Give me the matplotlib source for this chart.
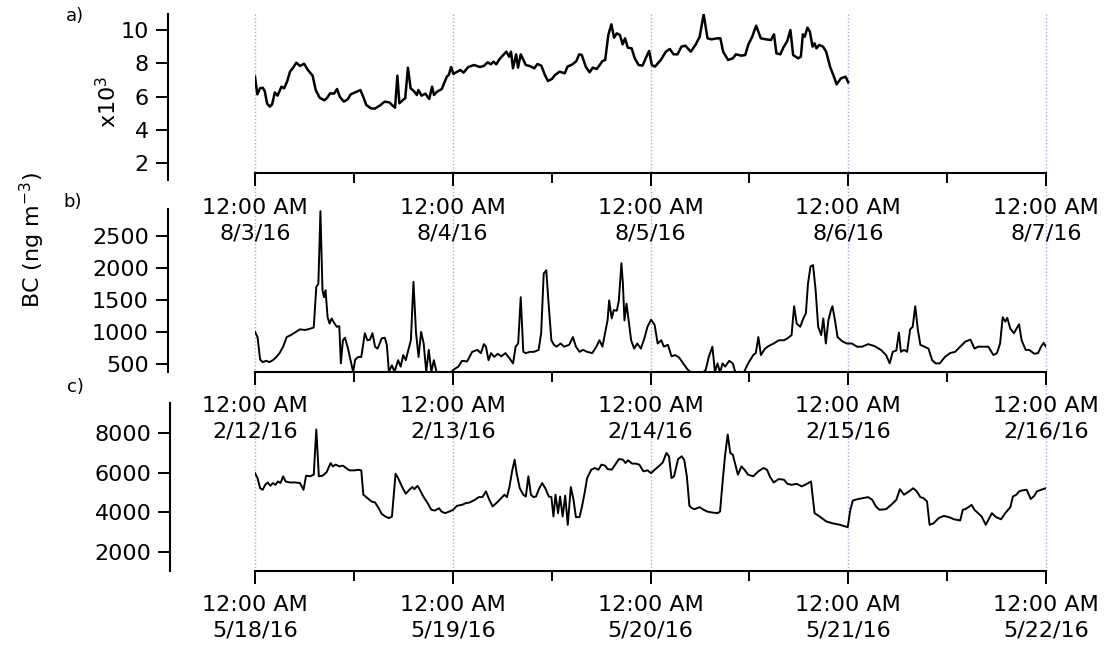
import numpy as np
import matplotlib
matplotlib.use('Agg')
import matplotlib.pyplot as plt
import matplotlib.dates as mdates
from matplotlib.ticker import FuncFormatter

plt.rcParams['font.family'] = 'DejaVu Sans'
plt.rcParams['font.size'] = 16

# a) August 2016, hours since 8/3/16 00:00, BC in ng m-3
start_a = np.datetime64('2016-08-03T00:00')
hrs_a = [0.00, 0.28, 0.61, 0.94, 1.18, 1.46, 1.79, 2.08, 2.41, 2.74,
         3.21, 3.54, 3.92, 4.25, 4.63, 5.01, 5.48, 5.95, 6.42, 6.99,
         7.37, 7.84, 8.41, 8.78, 9.11, 9.59, 9.96, 10.29, 10.77, 11.24,
         11.62, 12.18, 12.80, 13.13, 13.51, 14.07, 14.54, 15.25, 15.72, 16.29,
         16.72, 17.00, 17.28, 17.52, 17.99, 18.23, 18.56, 18.89, 19.27, 19.64,
         19.83, 20.21, 20.68, 21.15, 21.49, 21.72, 22.10, 22.67, 23.28, 23.52,
         23.80, 24.08, 24.55, 24.93, 25.31, 25.88, 26.59, 27.29, 27.76, 28.24,
         28.62, 28.95, 29.28, 29.65, 30.13, 30.50, 30.84, 31.07, 31.31, 31.69,
         31.92, 32.25, 32.86, 33.34, 33.90, 34.28, 34.75, 35.18, 35.56, 36.03,
         36.41, 36.97, 37.59, 37.92, 38.53, 39.01, 39.34, 39.66, 40.14, 40.61,
         40.99, 41.46, 41.84, 42.17, 42.50, 42.88, 43.25, 43.58, 43.91, 44.29,
         44.62, 44.91, 45.24, 45.71, 46.09, 46.56, 47.03, 47.50, 47.83, 48.16,
         48.54, 49.25, 49.86, 50.34, 50.81, 51.28, 51.75, 52.23, 52.89, 53.50,
         53.97, 54.45, 54.92, 55.39, 56.10, 56.48, 56.81, 57.42, 57.99, 58.37,
         59.03, 59.50, 59.88, 60.35, 60.82, 61.39, 62.00, 62.62, 62.99, 63.28,
         63.75, 64.12, 64.60, 64.98, 65.31, 65.92, 66.25, 66.49, 66.72, 67.05,
         67.34, 67.67, 67.90, 68.14, 68.47, 68.94, 69.32, 69.79, 70.26, 70.59,
         71.11, 71.68, 72.00]
bc_a = [7200, 6140, 6500, 6540, 6340, 5600, 5400, 5540, 6260, 6060,
        6600, 6500, 6940, 7500, 7740, 8040, 7840, 7980, 7600, 7260,
        6400, 5940, 5780, 5940, 6200, 6180, 6460, 6000, 5700, 5840,
        6140, 6260, 6400, 6000, 5500, 5300, 5280, 5500, 5700, 5660,
        5460, 5340, 7260, 5600, 5820, 5900, 7740, 6500, 6340, 6100,
        6400, 6060, 6180, 5860, 6600, 6100, 6300, 6460, 7200, 7300,
        7780, 7360, 7500, 7600, 7440, 7780, 7900, 7780, 7840, 8060,
        7940, 8100, 7940, 8240, 8500, 8700, 8400, 8700, 7700, 8540,
        7740, 8540, 7900, 7840, 7700, 7960, 7860, 7300, 6940, 7060,
        7300, 7500, 7400, 7800, 7940, 8140, 8540, 8500, 7800, 7460,
        7740, 7660, 7900, 8140, 8200, 9700, 10340, 9540, 9800, 9700,
        9140, 9500, 8940, 8900, 8300, 7900, 7860, 8400, 8740, 7900,
        7800, 8200, 8700, 8860, 8540, 8540, 9000, 9060, 8700, 9140,
        9600, 10950, 9500, 9440, 9500, 9500, 8700, 8200, 8300, 8540,
        8460, 8500, 9140, 9600, 10260, 9500, 9440, 9400, 9740, 8600,
        8540, 8940, 9340, 10000, 8500, 8300, 8400, 9740, 9600, 10140,
        9900, 9000, 9200, 8900, 9100, 9000, 8700, 7800, 7200, 6740,
        7100, 7200, 6860]

# b) February 2016
start_b = np.datetime64('2016-02-12T00:00')
hrs_b = [0.00, 0.31, 0.62, 0.93, 1.36, 1.74, 2.17, 2.60, 2.98, 3.41,
         3.85, 4.34, 4.84, 5.46, 6.08, 6.70, 7.13, 7.44, 7.69, 7.94,
         8.19, 8.37, 8.56, 8.81, 9.05, 9.30, 9.61, 9.92, 10.23, 10.42,
         10.67, 10.92, 11.29, 11.54, 11.91, 12.16, 12.53, 12.90, 13.33, 13.64,
         13.95, 14.26, 14.57, 14.88, 15.38, 15.75, 16.00, 16.25, 16.62, 16.93,
         17.37, 17.68, 17.99, 18.30, 18.61, 18.92, 19.23, 19.54, 19.85, 20.16,
         20.47, 20.78, 21.09, 21.40, 21.71, 22.02, 22.45, 22.95, 23.57, 24.19,
         24.68, 25.12, 25.74, 26.36, 26.98, 27.41, 27.78, 28.03, 28.34, 28.65,
         29.03, 29.46, 29.89, 30.39, 30.89, 31.32, 31.63, 31.94, 32.25, 32.56,
         32.87, 33.37, 33.86, 34.42, 34.73, 35.04, 35.35, 35.66, 35.97, 36.28,
         36.59, 37.09, 37.52, 38.14, 38.58, 38.95, 39.38, 39.82, 40.31, 40.93,
         41.43, 41.80, 42.17, 42.48, 42.79, 42.98, 43.29, 43.54, 43.91, 44.16,
         44.47, 44.65, 44.84, 45.09, 45.40, 45.65, 46.02, 46.39, 46.83, 47.26,
         47.63, 48.07, 48.50, 48.87, 49.31, 49.62, 50.11, 50.55, 50.98, 51.48,
         51.97, 52.47, 52.97, 53.59, 54.21, 54.70, 55.07, 55.51, 55.82, 56.13,
         56.44, 56.75, 57.06, 57.55, 57.99, 58.30, 58.79, 59.29, 59.85, 60.47,
         60.78, 61.09, 61.40, 61.90, 62.33, 62.95, 63.57, 64.19, 64.62, 65.12,
         65.43, 65.74, 66.17, 66.55, 66.86, 67.11, 67.42, 67.73, 68.04, 68.35,
         68.72, 68.97, 69.28, 69.59, 69.90, 70.08, 70.39, 70.70, 71.32, 71.82,
         72.44, 73.06, 73.68, 74.42, 75.17, 75.97, 76.59, 77.03, 77.40, 77.83,
         78.15, 78.39, 78.77, 79.14, 79.51, 79.82, 80.13, 80.44, 80.75, 81.25,
         81.74, 82.18, 82.61, 83.11, 83.73, 84.35, 84.97, 85.59, 86.21, 86.83,
         87.32, 87.76, 88.38, 89.00, 89.62, 90.05, 90.43, 90.74, 91.05, 91.30,
         91.67, 92.11, 92.73, 93.04, 93.53, 93.97, 94.59, 95.03, 95.40, 95.71,
         96.00]
bc_b = [1000, 920, 570, 530, 550, 530, 560, 610, 670, 770,
        920, 950, 990, 1040, 1030, 1050, 1070, 1700, 1750, 2880,
        1650, 1540, 1650, 1230, 1130, 1210, 1140, 1080, 1090, 510,
        870, 910, 740, 590, 380, 570, 610, 610, 980, 870,
        880, 980, 770, 740, 900, 910, 800, 380, 480, 380,
        560, 460, 640, 560, 720, 870, 1780, 990, 610, 1000,
        820, 380, 720, 380, 560, 380, 360, 360, 350, 420,
        460, 550, 540, 690, 720, 670, 810, 770, 560, 670,
        610, 660, 620, 670, 590, 510, 770, 820, 1540, 690,
        670, 690, 690, 720, 980, 1910, 1960, 1390, 870, 800,
        770, 820, 770, 800, 920, 770, 690, 720, 690, 670,
        770, 870, 770, 980, 1180, 1490, 1210, 1340, 1330, 1490,
        2070, 1750, 1180, 1440, 1130, 870, 740, 820, 740, 900,
        1080, 1190, 1110, 820, 870, 770, 800, 620, 640, 600,
        510, 420, 360, 350, 350, 410, 610, 770, 380, 510,
        370, 510, 460, 550, 510, 370, 380, 360, 510, 640,
        670, 920, 640, 740, 780, 820, 870, 870, 900, 950,
        1400, 1130, 1080, 1210, 1290, 1750, 2020, 2040, 1650, 1080,
        950, 1210, 820, 1180, 1340, 1400, 1180, 920, 850, 820,
        820, 770, 770, 810, 780, 720, 640, 510, 690, 710,
        990, 690, 720, 690, 1040, 1080, 1400, 1040, 800, 770,
        740, 560, 510, 510, 610, 670, 690, 770, 850, 880,
        740, 770, 770, 770, 640, 670, 820, 1230, 1160, 1220,
        1050, 980, 1120, 870, 720, 720, 660, 670, 770, 830,
        770]

# c) May 2016
start_c = np.datetime64('2016-05-18T00:00')
hrs_c = [0.00, 0.31, 0.62, 0.93, 1.24, 1.55, 1.86, 2.17, 2.48, 2.79,
         3.10, 3.41, 3.72, 4.22, 4.84, 5.46, 5.89, 6.20, 6.70, 7.13,
         7.44, 7.75, 8.19, 8.68, 9.18, 9.43, 9.80, 10.23, 10.67, 11.04,
         11.47, 12.09, 12.53, 12.90, 13.15, 13.64, 14.14, 14.57, 15.01, 15.38,
         15.82, 16.25, 16.62, 17.06, 17.37, 17.86, 18.30, 18.73, 19.10, 19.35,
         19.72, 19.97, 20.47, 20.96, 21.40, 21.83, 22.33, 22.64, 23.07, 23.57,
         24.06, 24.50, 25.12, 25.55, 26.05, 26.67, 27.16, 27.60, 28.03, 28.40,
         28.84, 29.27, 29.77, 30.27, 30.58, 30.89, 31.20, 31.51, 31.75, 32.13,
         32.56, 32.87, 33.18, 33.49, 33.80, 34.11, 34.42, 34.85, 35.23, 35.66,
         35.97, 36.22, 36.47, 36.78, 37.03, 37.34, 37.65, 37.96, 38.33, 38.64,
         38.95, 39.38, 39.69, 40.00, 40.31, 40.81, 41.24, 41.68, 42.05, 42.48,
         42.79, 43.29, 43.72, 44.16, 44.65, 44.96, 45.27, 45.77, 46.20, 46.64,
         47.14, 47.63, 48.07, 48.50, 48.99, 49.49, 49.93, 50.24, 50.55, 50.86,
         51.35, 51.79, 52.10, 52.41, 52.72, 53.03, 53.34, 53.96, 54.45, 54.89,
         55.51, 56.13, 56.44, 56.81, 57.06, 57.37, 57.68, 57.99, 58.30, 58.61,
         59.04, 59.41, 59.85, 60.47, 61.09, 61.71, 62.14, 62.52, 62.95, 63.57,
         64.19, 64.62, 65.12, 65.74, 66.36, 66.98, 67.48, 67.91, 68.53, 69.34,
         70.08, 71.01, 71.94, 72.25, 72.56, 73.18, 73.80, 74.42, 74.92, 75.35,
         75.79, 76.59, 77.21, 77.83, 78.27, 78.77, 79.39, 79.88, 80.31, 80.75,
         81.12, 81.56, 81.87, 82.36, 82.98, 83.60, 84.22, 84.84, 85.59, 85.90,
         86.21, 86.71, 86.96, 87.32, 87.76, 88.19, 88.69, 89.00, 89.43, 89.93,
         90.55, 91.05, 91.67, 91.98, 92.41, 92.73, 93.16, 93.66, 94.15, 94.59,
         94.90, 95.40, 96.00]
bc_c = [5980, 5730, 5220, 5140, 5390, 5510, 5340, 5480, 5390, 5560,
        5480, 5820, 5560, 5510, 5510, 5480, 5140, 5850, 5820, 5900,
        8180, 5820, 5850, 6020, 6490, 6320, 6410, 6320, 6360, 6240,
        6120, 6120, 6150, 6120, 4890, 4720, 4550, 4500, 4210, 3920,
        3790, 3710, 3790, 5950, 5730, 5280, 4940, 5140, 5280, 5170,
        5340, 5170, 4770, 4460, 4130, 4090, 4210, 4040, 3960, 4040,
        4130, 4330, 4380, 4460, 4500, 4630, 4770, 4770, 5060, 4670,
        4300, 4460, 4670, 4890, 4770, 5310, 6070, 6660, 5980, 5220,
        4890, 4800, 5820, 4890, 4770, 4800, 5140, 5480, 5220, 4800,
        4770, 3790, 4890, 3960, 4800, 3790, 4840, 3370, 5280, 4670,
        3760, 3760, 4300, 4970, 5730, 6150, 6240, 6150, 6410, 6360,
        6190, 6150, 6410, 6690, 6660, 6490, 6630, 6460, 6460, 6410,
        6070, 6120, 5980, 6150, 6320, 6520, 7000, 6830, 5730, 5820,
        6690, 6830, 6630, 5820, 4330, 4210, 4160, 4260, 4130, 4040,
        3990, 3960, 4040, 5820, 6910, 7930, 7000, 6910, 6410, 5900,
        6320, 6150, 5900, 5820, 6070, 6240, 6150, 5780, 5510, 5680,
        5650, 5440, 5390, 5440, 5310, 5440, 5560, 3960, 3790, 3540,
        3450, 3370, 3250, 4130, 4600, 4670, 4720, 4770, 4630, 4300,
        4130, 4160, 4380, 4630, 5170, 4890, 5060, 5220, 5060, 4770,
        4720, 4550, 3370, 3450, 3710, 3820, 3760, 3650, 3590, 4130,
        4160, 4300, 4380, 4130, 3960, 3790, 3370, 3620, 3960, 3760,
        3650, 3960, 4260, 4800, 4890, 5060, 5110, 5140, 4670, 4840,
        5060, 5140, 5220]

W, H = 1108, 651
fig = plt.figure(figsize=(W / 100, H / 100), dpi=100)


def box(top, bottom, left=255, right=1046):
    # pixel box -> figure fraction
    return [left / W, 1 - bottom / H, (right - left) / W, (bottom - top) / H]


def to_time(start, hrs):
    return start + (np.array(hrs) * 3600).astype('timedelta64[s]')


def fmt_date(x, pos):
    d = mdates.num2date(x)
    return d.strftime('%I:%M %p') + '\n{}/{}/{}'.format(d.month, d.day, d.strftime('%y'))


# dotted day lines running through all three panels
gax = fig.add_axes(box(14, 571))
gax.set_xlim(0, 4)
gax.set_xticks(range(5))
gax.set_yticks([])
gax.grid(True, axis='x', color='#a8a8f2', linestyle=(0, (1, 1.5)), linewidth=1.0)
for gl in gax.get_xgridlines():
    gl.set_clip_on(False)
gax.tick_params(length=0, labelbottom=False)
for s in gax.spines.values():
    s.set_visible(False)
gax.patch.set_visible(False)

panels = [
    (start_a, hrs_a, np.array(bc_a) / 1000, box(14, 180), (1.0, 10.96), [2, 4, 6, 8, 10], 0.04, 63, 1.8),
    (start_b, hrs_b, np.array(bc_b), box(209, 372), (376, 2914), [500, 1000, 1500, 2000, 2500], 0.0, 63, 1.4),
    (start_c, hrs_c, np.array(bc_c), box(403, 571), (1040, 9520), [2000, 4000, 6000, 8000], 0.0, 61, 1.4),
]

axes = []
for start, hrs, vals, rect, ylim, yt, xpos, off, lw in panels:
    ax = fig.add_axes(rect)
    ax.patch.set_visible(False)
    ax.plot(to_time(start, hrs), vals, color='black', linewidth=lw)
    ax.set_xlim(start, start + np.timedelta64(4, 'D'))
    ax.set_ylim(*ylim)
    ax.set_yticks(yt)
    ax.spines['top'].set_visible(False)
    ax.spines['right'].set_visible(False)
    ax.spines['left'].set_position(('outward', off))
    ax.spines['bottom'].set_position(('axes', xpos))
    for s in ('left', 'bottom'):
        ax.spines[s].set_linewidth(1.5)
    ax.xaxis.set_major_locator(mdates.DayLocator())
    ax.xaxis.set_minor_locator(mdates.HourLocator(byhour=[12]))
    ax.xaxis.set_major_formatter(FuncFormatter(fmt_date))
    ax.tick_params(axis='x', which='major', direction='out', length=9.5, width=1.4, pad=8, labelsize=16)
    ax.tick_params(axis='x', which='minor', direction='out', length=7, width=1.4)
    ax.tick_params(axis='y', direction='out', length=8.5, width=1.4, pad=5, labelsize=16)
    axes.append(ax)

fig.text(75 / W, 1 - 16 / H, 'a)', fontsize=13, ha='center', va='center')
fig.text(73 / W, 1 - 202 / H, 'b)', fontsize=13, ha='center', va='center')
fig.text(75 / W, 1 - 387 / H, 'c)', fontsize=13, ha='center', va='center')
fig.text(32 / W, 1 - 240 / H, 'BC (ng m$^{-3}$)', rotation=90, ha='center', va='center', fontsize=16)
fig.text(108 / W, 1 - 102 / H, 'x10$^3$', rotation=90, ha='center', va='center', fontsize=16)

# wider gap between the time and date lines of the tick labels
fig.canvas.draw()
for ax in axes:
    for t in ax.xaxis.get_major_ticks():
        t.label1.set_linespacing(1.35)

fig.savefig('out.png', dpi=100)
